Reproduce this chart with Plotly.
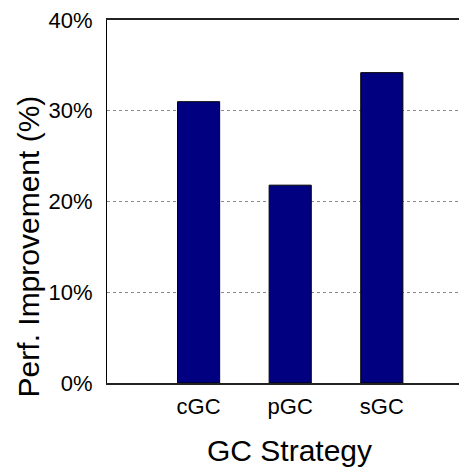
"""Bar chart: performance improvement per GC strategy."""

import plotly.graph_objects as go

strategies = ["cGC", "pGC", "sGC"]
improvement = [31.0, 21.8, 34.2]
y_ticks = [0, 10, 20, 30, 40]
y_tick_labels = ["0%", "10%", "20%", "30%", "40%"]

FONT = "Liberation Sans, Arial, sans-serif"

fig = go.Figure(go.Bar(
    x=strategies,
    y=improvement,
    width=0.46,
    marker=dict(color="#000080", line=dict(color="#000000", width=1)),
))

# page body has an 8px margin, so the figure is 8px smaller than the window
fig.update_layout(
    width=459,
    height=463,
    margin=dict(l=99, r=0, t=8, b=88),
    plot_bgcolor="white",
    paper_bgcolor="white",
    showlegend=False,
    font=dict(family=FONT, color="black"),
    xaxis=dict(
        range=[-1, 2.93],
        showline=True,
        linecolor="#222222",
        linewidth=2,
        mirror=True,
        showgrid=False,
        ticks="",
        tickfont=dict(size=22),
        ticklabelstandoff=3,
    ),
    yaxis=dict(
        range=[0, 40],
        tickvals=y_ticks,
        ticktext=y_tick_labels,
        showline=True,
        linecolor="black",
        linewidth=1,
        showgrid=True,
        gridcolor="#8a8a8a",
        griddash="dot",
        gridwidth=1,
        zeroline=False,
        ticks="",
        tickfont=dict(size=22),
        ticklabelstandoff=9,
        ticklabeloverflow="allow",
    ),
)

fig.add_annotation(
    text="GC Strategy",
    xref="paper", yref="paper",
    x=0.508, y=-0.186,
    xanchor="center", yanchor="middle",
    showarrow=False,
    font=dict(size=30, family=FONT),
)
fig.add_annotation(
    text="Perf. Improvement (%)",
    xref="paper", yref="paper",
    x=-0.217, y=0.376,
    xanchor="center", yanchor="middle",
    textangle=-90,
    showarrow=False,
    font=dict(size=30, family=FONT),
)

fig.write_html("out.html")
